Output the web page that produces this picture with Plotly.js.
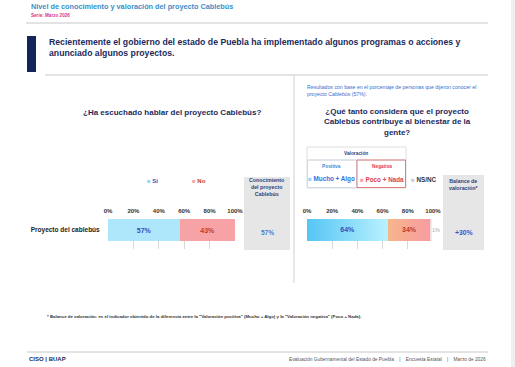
<!DOCTYPE html>
<html><head><meta charset="utf-8">
<script src="https://cdn.plot.ly/plotly-3.0.1.min.js"></script>
<style>html,body{margin:0;padding:0;background:#fff;}#chart{width:515px;height:367px;}</style>
</head><body><div id="chart"></div>
<script>
// ---- data ----
const category = ['Proyecto del cablebús'];
const conocLabels = ['Sí', 'No'];
const conocValues = [57, 43];
const valorLabels = ['Mucho + Algo', 'Poco + Nada', 'NS/NC'];
const valorValues = [64, 34, 1];
const tickVals = [0, 20, 40, 60, 80, 100];
const tickText = ['0%', '20%', '40%', '60%', '80%', '100%'];

// ---- styles ----
const W = 515, H = 367;
const px = x => x / W, py = y => 1 - y / H;
const NAVY = '#1c2a5c';
const FONT = 'Liberation Sans, Arial, sans-serif';
const NARROW = 'Liberation Sans Narrow, Liberation Sans, Arial, sans-serif';
const conocColors = ['#aee6fb', '#f7a3a6'];
const conocText = ['#3550c0', '#c0392b'];
const valorGrad = [['#55c6f4', '#b9f1ff'], ['#f6b68a', '#f89ba2'], ['#e6e6e6', '#e6e6e6']];
const valorText = ['#3550c0', '#c0392b', '#aaaaaa'];
const legendSq = ['#8fd9f7', '#f7a9a0', '#d0d0d0'];

const traces = [];
// left panel: stacked bars
conocValues.forEach((v, i) => {
  traces.push({
    type: 'bar', orientation: 'h', x: [v], y: [0], width: 0.6,
    marker: {color: conocColors[i], line: {width: 0}},
    text: [v + '%'], textposition: 'inside', insidetextanchor: 'middle',
    textfont: {family: FONT, size: 7, color: conocText[i], weight: 'bold'},
    xaxis: 'x', yaxis: 'y', hoverinfo: 'skip', showlegend: false
  });
});
// right panel: gradient segments built from the values
let cum = 0;
valorValues.forEach((v, i) => {
  const a = cum, b = cum + v;
  traces.push({
    type: 'scatter', mode: 'lines', fill: 'toself',
    x: [a, b, b, a, a], y: [-0.3, -0.3, 0.3, 0.3, -0.3],
    line: {width: 0},
    fillgradient: {type: 'horizontal', start: a, stop: b,
      colorscale: [[0, valorGrad[i][0]], [1, valorGrad[i][1]]]},
    xaxis: 'x2', yaxis: 'y2', hoverinfo: 'skip', showlegend: false
  });
  if (i < 2) {
    traces.push({
      type: 'scatter', mode: 'text', x: [(a + b) / 2], y: [0], text: [v + '%'],
      textfont: {family: FONT, size: 7, color: valorText[i], weight: 'bold'},
      xaxis: 'x2', yaxis: 'y2', hoverinfo: 'skip', showlegend: false
    });
  }
  cum = b;
});

const axisX = (dom) => ({
  domain: dom, range: [0, 100], side: 'top', tickvals: tickVals, ticktext: tickText,
  showgrid: true, gridcolor: '#d9d9d9', gridwidth: 1, zeroline: false, showline: false,
  ticks: 'outside', ticklen: 3, tickcolor: 'rgba(0,0,0,0)',
  tickfont: {family: FONT, size: 6, color: '#333', weight: 'bold'}, fixedrange: true
});
const yDom = [py(249), py(219)];

const ann = [];
const A = (x, y, text, size, color, opts = {}) => ann.push(Object.assign({
  xref: 'paper', yref: 'paper', x: px(x), y: py(y), text: text, showarrow: false,
  xanchor: 'left', yanchor: 'middle', align: 'left',
  font: {family: FONT, size: size, color: color}
}, opts));

// header
A(29, 7, '<b>Nivel de conocimiento y valoración del proyecto Cablebús</b>', 7.3, '#3a8fc9');
A(29, 16, '<b>Serie: Marzo 2026</b>', 4.6, '#d63384');
A(47, 48, '<b>Recientemente el gobierno del estado de Puebla ha implementado algunos programas o acciones y<br>anunciado algunos proyectos.</b>', 8.7, NAVY);
// left panel
A(172, 112, '<b>¿Ha escuchado hablar del proyecto Cablebús?</b>', 8, NAVY, {xanchor: 'center', align: 'center'});
A(145, 181, '<span style="color:' + legendSq[0] + '">■</span> <b>' + conocLabels[0] + '</b>', 6, '#3550c0');
A(190, 181, '<span style="color:' + legendSq[1] + '">■</span> <b>' + conocLabels[1] + '</b>', 6, '#c0392b');
A(267, 187, '<b>Conocimiento<br>del proyecto<br>Cablebús</b>', 5.3, '#2d3f7a', {xanchor: 'center', align: 'center'});
A(267, 232, '<b>' + conocValues[0] + '%</b>', 6.5, '#3d7fd6', {xanchor: 'center'});
// right panel
A(305, 90, 'Resultados con base en el porcentaje de personas que dijeron conocer el<br>proyecto Cablebús (' + conocValues[0] + '%).', 5, '#3a6fcf', {font: {family: NARROW, size: 5.2, color: '#3a6fcf'}});
A(397, 122, '<b>¿Qué tanto considera que el proyecto<br>Cablebús contribuye al bienestar de la<br>gente?</b>', 8, NAVY, {xanchor: 'center', align: 'center'});
A(356, 153.5, '<b>Valoración</b>', 4.8, '#2d3f7a', {xanchor: 'center'});
A(331.5, 167, '<b>Positiva</b>', 4.8, '#3a8fd6', {xanchor: 'center'});
A(381.5, 167, '<b>Negativa</b>', 4.8, '#e0404a', {xanchor: 'center'});
A(331.5, 179, '<span style="color:' + legendSq[0] + '">■</span> <b>' + valorLabels[0] + '</b>', 5.8, '#3a6fd6', {xanchor: 'center', font: {family: NARROW, size: 6.3, color: '#3a6fd6'}});
A(381.5, 179, '<span style="color:' + legendSq[1] + '">■</span> <b>' + valorLabels[1] + '</b>', 5.8, '#e0404a', {xanchor: 'center', font: {family: NARROW, size: 6.3, color: '#e0404a'}});
A(409, 179, '<span style="color:' + legendSq[2] + '">■</span> <b>' + valorLabels[2] + '</b>', 5.8, '#333', {font: {family: NARROW, size: 6.3, color: '#333'}});
A(463.5, 184, '<b>Balance de<br>valoración*</b>', 5.3, '#2d3f7a', {xanchor: 'center', align: 'center'});
const balance = valorValues[0] - valorValues[1];
A(463.5, 232, '<b>' + (balance >= 0 ? '+' : '') + balance + '%</b>', 6.8, '#3b55d0', {xanchor: 'center'});
ann.push({xref: 'x2', yref: 'y2', x: cum, y: 0, text: valorValues[2] + '%', showarrow: false,
  xanchor: 'left', yanchor: 'middle', xshift: -2, font: {family: FONT, size: 5.5, color: valorText[2]}});
// footnote & footer
A(45, 316, '<b>* Balance de valoración: es el indicador obtenido de la diferencia entre la "Valoración positiva" (Mucho + Algo) y la "Valoración negativa" (Poco + Nada).</b>', 4.3, '#333', {font: {family: NARROW, size: 4.35, color: '#333'}});
A(27, 359, '<b>CISO | BUAP</b>', 6, NAVY);
A(488, 359, 'Evaluación Gubernamental del Estado de Puebla &nbsp;&nbsp; | &nbsp;&nbsp; Encuesta Estatal &nbsp;&nbsp; | &nbsp;&nbsp; Marzo de 2026', 4.6, '#555', {xanchor: 'right', font: {family: NARROW, size: 4.8, color: '#555'}});

const R = (x0, y0, x1, y1, fill, line, lw = 1) => ({
  type: 'rect', xref: 'paper', yref: 'paper', x0: px(x0), x1: px(x1), y0: py(y0), y1: py(y1),
  fillcolor: fill, line: {color: line, width: lw}, layer: 'below'
});
const L = (x0, y0, x1, y1, color, w = 1) => ({
  type: 'line', xref: 'paper', yref: 'paper', x0: px(x0), x1: px(x1), y0: py(y0), y1: py(y1),
  line: {color: color, width: w}, layer: 'below'
});
const shapes = [
  R(511, 0, 515, 367, '#efefef', 'rgba(0,0,0,0)', 0),
  L(26, 23, 488, 23, '#c8c8c8', 1),
  R(27, 36, 36, 72, '#14255c', 'rgba(0,0,0,0)', 0),
  L(45, 75, 488, 75, '#c8c8c8', 1),
  L(294, 75, 294, 283, '#cfcfcf', 1),
  R(244, 177, 290, 250, '#e6e6e6', 'rgba(0,0,0,0)', 0),
  R(443, 175, 484, 250, '#e6e6e6', 'rgba(0,0,0,0)', 0),
  R(307, 147, 406, 188, 'rgba(0,0,0,0)', '#d5d5d5', 0.8),
  L(307, 160, 406, 160, '#d5d5d5', 0.8),
  R(307.5, 160, 356.5, 187.5, 'rgba(0,0,0,0)', '#c9d6e6', 0.8),
  R(357, 160, 405.5, 187.5, 'rgba(0,0,0,0)', '#e06060', 0.8),
  L(27, 352, 488, 352, '#c8c8c8', 1)
];

const layout = {
  width: W, height: H, margin: {l: 0, r: 0, t: 0, b: 0},
  paper_bgcolor: '#ffffff', plot_bgcolor: 'rgba(0,0,0,0)',
  barmode: 'stack', showlegend: false,
  xaxis: axisX([px(108), px(235)]),
  xaxis2: axisX([px(307), px(433)]),
  yaxis: {domain: yDom, range: [-0.518, 0.3], tickvals: [0], ticktext: category,
    showgrid: false, zeroline: false, fixedrange: true, ticks: 'outside', ticklen: 6, tickcolor: 'rgba(0,0,0,0)',
    tickfont: {family: FONT, size: 6.5, color: '#222', weight: 'bold'}},
  yaxis2: {domain: yDom, range: [-0.518, 0.3], showticklabels: false, showgrid: false, zeroline: false, fixedrange: true, anchor: 'x2'},
  annotations: ann, shapes: shapes
};
layout.xaxis2.anchor = 'y2';
layout.xaxis.anchor = 'y';

Plotly.newPlot('chart', traces, layout, {displayModeBar: false, staticPlot: true});
</script></body></html>
